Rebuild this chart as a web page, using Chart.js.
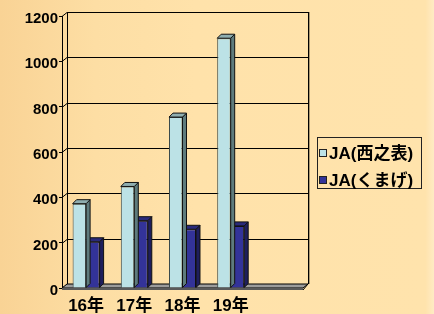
<!DOCTYPE html>
<html>
<head>
<meta charset="utf-8">
<script src="https://cdn.jsdelivr.net/npm/chart.js@4"></script>
<style>
  html, body { margin:0; padding:0; }
  body { width:434px; height:314px; overflow:hidden; }
  #wrap { width:434px; height:314px; background:linear-gradient(to right, #F9D395 0%, #FDDEA4 22%, #FFE2AA 45%, #FFE3AC 98%, #FFEBC4 100%); }
</style>
</head>
<body>
<div id="wrap"><canvas id="c" width="434" height="314"></canvas></div>
<script>
// data
const years = ['16年', '17年', '18年', '19年', ''];
const nishinoomote = [372, 448, 754, 1102, null];
const kumage = [204, 297, 259, 274, null];
const yTicks = [0, 200, 400, 600, 800, 1000, 1200];

const FONT = "'Liberation Sans', 'Noto Sans CJK JP', sans-serif";
const DEPTH = { dx: 5, dy: 4 };   // wall depth
const BAR_D = { dx: 4, dy: 4 };   // bar depth

// simple 3d look: back wall, left wall edge, floor
const wallPlugin = {
  id: 'wall',
  beforeDatasetsDraw(chart){
    const { ctx, chartArea: a } = chart;
    const ys = chart.scales.y;
    const { dx, dy } = DEPTH;
    ctx.save();
    ctx.lineWidth = 1;
    ctx.strokeStyle = '#000';
    // gridlines on the back wall + the diagonal on the left wall
    yTicks.forEach(v => {
      const y = Math.round(ys.getPixelForValue(v)) + 0.5;
      ctx.beginPath();
      ctx.moveTo(a.left, y);
      ctx.lineTo(a.left + dx, y - dy);
      ctx.lineTo(a.right + dx, y - dy);
      ctx.stroke();
    });
    ctx.beginPath();
    ctx.moveTo(a.left + dx + 0.5, a.top - dy);
    ctx.lineTo(a.left + dx + 0.5, a.bottom - dy);
    ctx.moveTo(a.right + dx + 0.5, a.top - dy);
    ctx.lineTo(a.right + dx + 0.5, a.bottom - dy);
    ctx.stroke();
    ctx.strokeStyle = 'rgba(90,80,60,0.5)';
    ctx.beginPath();
    ctx.moveTo(a.right + dx + 1.5, a.top - dy);
    ctx.lineTo(a.right + dx + 1.5, a.bottom - dy);
    ctx.stroke();
    // floor
    const b = a.bottom;
    ctx.fillStyle = '#9C9C9C';
    ctx.strokeStyle = '#000';
    ctx.beginPath();
    ctx.moveTo(a.left, b);
    ctx.lineTo(a.left + dx, b - dy);
    ctx.lineTo(a.right + dx, b - dy);
    ctx.lineTo(a.right, b);
    ctx.closePath();
    ctx.fill();
    ctx.stroke();
    ctx.restore();
  },
  afterDraw(chart){
    // front floor edge on top of bar bottoms
    const { ctx, chartArea: a } = chart;
    ctx.save();
    ctx.fillStyle = '#5A5A5A';
    ctx.fillRect(a.left, a.bottom, a.right - a.left, 2);
    ctx.strokeStyle = '#000';
    ctx.beginPath();
    ctx.moveTo(a.right, a.bottom + 2);
    ctx.lineTo(a.right + DEPTH.dx, a.bottom - DEPTH.dy);
    ctx.stroke();
    ctx.restore();
  }
};

// side and top faces of every bar, drawn right after its own dataset
const sidePlugin = {
  id: 'sides',
  afterDatasetDraw(chart, args){
    const ds = chart.data.datasets[args.index];
    const meta = args.meta;
    const { ctx } = chart;
    const { dx, dy } = BAR_D;
    ctx.save();
    ctx.lineWidth = 1;
    ctx.strokeStyle = '#111';
    meta.data.forEach((bar, i) => {
      if (ds.data[i] == null) return;
      const p = bar.getProps(['x', 'y', 'base', 'width'], true);
      const l = p.x - p.width / 2, r = p.x + p.width / 2;
      // side
      ctx.fillStyle = ds.sideColor;
      ctx.beginPath();
      ctx.moveTo(r, p.y);
      ctx.lineTo(r + dx, p.y - dy);
      ctx.lineTo(r + dx, p.base - dy);
      ctx.lineTo(r, p.base);
      ctx.closePath();
      ctx.fill(); ctx.stroke();
      // top
      ctx.fillStyle = ds.topColor;
      ctx.beginPath();
      ctx.moveTo(l, p.y);
      ctx.lineTo(l + dx, p.y - dy);
      ctx.lineTo(r + dx, p.y - dy);
      ctx.lineTo(r, p.y);
      ctx.closePath();
      ctx.fill(); ctx.stroke();
    });
    ctx.restore();
  }
};

// boxed legend on the right
const legendBox = {
  id: 'legendBox',
  afterDraw(chart){
    const { ctx } = chart;
    const x0 = 317, y0 = 137, w = 104, h = 51;
    ctx.save();
    ctx.strokeStyle = '#222';
    ctx.lineWidth = 1;
    ctx.strokeRect(x0 + 0.5, y0 + 0.5, w, h);
    ctx.font = 'bold 17px ' + FONT;
    ctx.textBaseline = 'middle';
    ctx.textAlign = 'left';
    chart.data.datasets.forEach((ds, i) => {
      const cy = y0 + 16 + i * 27;
      ctx.fillStyle = ds.backgroundColor;
      ctx.fillRect(x0 + 2.5, cy - 3.5, 7, 7);
      ctx.strokeStyle = '#222';
      ctx.strokeRect(x0 + 2.5, cy - 3.5, 7, 7);
      ctx.fillStyle = '#000';
      ctx.fillText(ds.label, x0 + 12, cy + 1);
    });
    ctx.restore();
  }
};

new Chart(document.getElementById('c'), {
  type: 'bar',
  data: {
    labels: years,
    datasets: [
      { label: 'JA(西之表)', data: nishinoomote, backgroundColor: '#BCE2E6', borderColor: '#3a4a4c', borderWidth: 1,
        sideColor: '#5E7B7D', topColor: '#8FAEB0', categoryPercentage: 0.56, barPercentage: 1 },
      { label: 'JA(くまげ)', data: kumage, backgroundColor: '#333399', borderColor: '#111', borderWidth: 1,
        sideColor: '#1E1E5C', topColor: '#2A2A7A', categoryPercentage: 0.56, barPercentage: 1 }
    ]
  },
  options: {
    responsive: false,
    devicePixelRatio: 1,
    animation: false,
    layout: { padding: { left: 0, top: 16, right: 131, bottom: 0 } },
    plugins: { legend: { display: false }, tooltip: { enabled: false } },
    scales: {
      x: {
        grid: { display: false, drawTicks: false },
        border: { display: false },
        ticks: { color: '#000', padding: 8, font: { family: FONT, size: 17, weight: 'bold' } },
        afterFit: s => { s.height = 26; }
      },
      y: {
        min: 0, max: 1200,
        afterBuildTicks: s => { s.ticks = yTicks.map(v => ({ value: v })); },
        grid: { drawOnChartArea: false, tickLength: 3, color: '#000' },
        border: { display: true, color: '#000', width: 1 },
        ticks: { color: '#000', padding: 1, labelOffset: 3, callback: v => String(v),
                 font: { family: FONT, size: 15, weight: 'bold' } },
        afterFit: s => { s.width = 62; }
      }
    }
  },
  plugins: [wallPlugin, sidePlugin, legendBox]
});
</script>
</body>
</html>
